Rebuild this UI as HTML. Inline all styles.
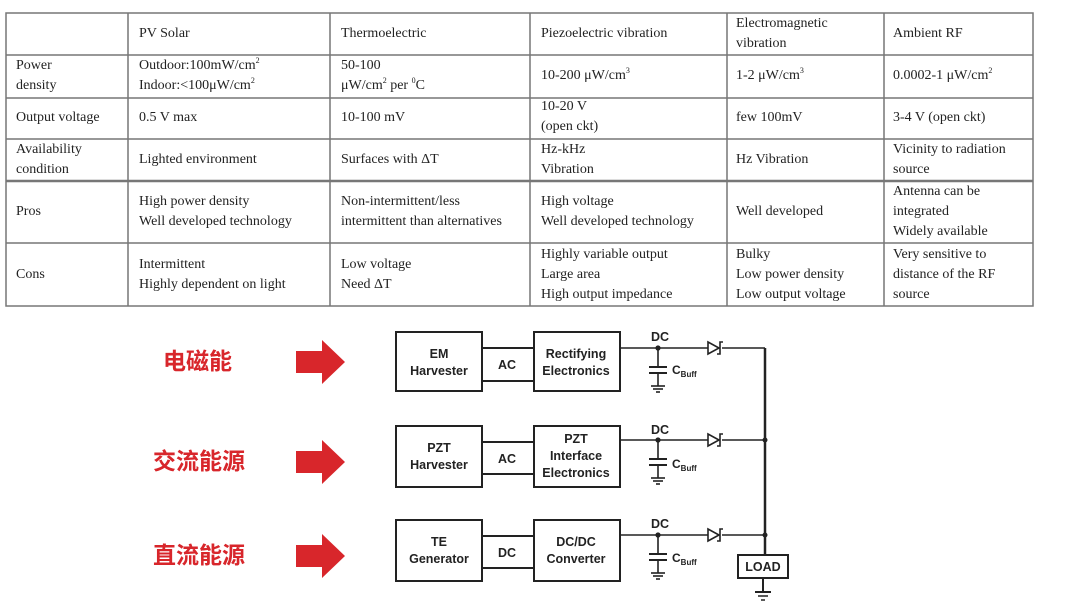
<!DOCTYPE html>
<html><head><meta charset="utf-8"><style>
body{margin:0;width:1069px;height:608px;background:#fff;overflow:hidden;position:relative;font-family:"Liberation Serif",serif;}
.t{position:absolute;font-size:14px;color:#222;line-height:20px;}
.t sup{font-size:8px;line-height:0;vertical-align:6px;}
.cn{position:absolute;font-family:"Liberation Sans","Noto Sans CJK SC",sans-serif;font-weight:bold;color:#d8262b;font-size:23px;line-height:30px;}
</style></head><body>
<svg width="1069" height="608" style="position:absolute;left:0;top:0">
<g stroke="#777" stroke-width="1.5" fill="none">
<rect x="6" y="13" width="1027" height="293"/>
<line x1="128" y1="13" x2="128" y2="306"/><line x1="330" y1="13" x2="330" y2="306"/>
<line x1="530" y1="13" x2="530" y2="306"/><line x1="727" y1="13" x2="727" y2="306"/>
<line x1="884" y1="13" x2="884" y2="306"/>
<line x1="6" y1="55" x2="1033" y2="55"/><line x1="6" y1="98" x2="1033" y2="98"/>
<line x1="6" y1="139" x2="1033" y2="139"/><line x1="6" y1="181" x2="1033" y2="181" stroke-width="2.5"/>
<line x1="6" y1="243" x2="1033" y2="243"/>
</g>
<g fill="#d8262b">
<polygon points="296,351 322,351 322,340 345,362 322,384 322,373 296,373"/>
<polygon points="296,451 322,451 322,440 345,462 322,484 322,473 296,473"/>
<polygon points="296,545 322,545 322,534 345,556 322,578 322,567 296,567"/>
</g>
<g stroke="#222" stroke-width="2" fill="none">
<rect x="396" y="332" width="86" height="59"/><rect x="534" y="332" width="86" height="59"/>
<rect x="396" y="426" width="86" height="61"/><rect x="534" y="426" width="86" height="61"/>
<rect x="396" y="520" width="86" height="61"/><rect x="534" y="520" width="86" height="61"/>
<line x1="482" y1="348" x2="534" y2="348"/><line x1="482" y1="381" x2="534" y2="381"/>
<line x1="482" y1="442" x2="534" y2="442"/><line x1="482" y1="474" x2="534" y2="474"/>
<line x1="482" y1="536" x2="534" y2="536"/><line x1="482" y1="568" x2="534" y2="568"/>
<line x1="765" y1="348" x2="765" y2="555" stroke-width="2.5"/>
<rect x="738" y="555" width="50" height="23"/>
<line x1="763" y1="578" x2="763" y2="592"/>
<line x1="755" y1="592" x2="771" y2="592"/><line x1="758" y1="596" x2="768" y2="596" stroke-width="1.5"/><line x1="761" y1="600" x2="765" y2="600" stroke-width="1.5"/>
</g>
<g id="br" stroke="#222" stroke-width="1.6" fill="none">
<line x1="620" y1="348" x2="708" y2="348"/><line x1="722" y1="348" x2="765" y2="348"/>
<polygon points="708,342 708,354 719,348" fill="#fff"/>
<polyline points="717,354 720,354 720,342 723,342"/>
<line x1="658" y1="348" x2="658" y2="367"/>
<line x1="649" y1="367" x2="667" y2="367" stroke-width="2"/><line x1="649" y1="373" x2="667" y2="373" stroke-width="2"/>
<line x1="658" y1="373" x2="658" y2="386"/>
<line x1="651" y1="386" x2="665" y2="386"/><line x1="653" y1="389" x2="663" y2="389"/><line x1="656" y1="392" x2="660" y2="392"/>
<circle cx="658" cy="348" r="1.8" fill="#222"/>
</g>
<use href="#br" y="92"/><use href="#br" y="187"/>
<circle cx="765" cy="440" r="2.5" fill="#222"/><circle cx="765" cy="535" r="2.5" fill="#222"/>
<g font-family="Liberation Sans,sans-serif" font-weight="bold" font-size="12.5" fill="#222" text-anchor="middle">
<text x="439" y="358">EM</text><text x="439" y="375">Harvester</text>
<text x="576" y="358">Rectifying</text><text x="576" y="375">Electronics</text>
<text x="439" y="452">PZT</text><text x="439" y="469">Harvester</text>
<text x="576" y="443">PZT</text><text x="576" y="460">Interface</text><text x="576" y="477">Electronics</text>
<text x="439" y="546">TE</text><text x="439" y="563">Generator</text>
<text x="576" y="546">DC/DC</text><text x="576" y="563">Converter</text>
<text x="507" y="369">AC</text><text x="507" y="463">AC</text><text x="507" y="557">DC</text>
<text x="660" y="341">DC</text><text x="660" y="434">DC</text><text x="660" y="528">DC</text>
<text x="763" y="571">LOAD</text>
</g>
<g font-family="Liberation Sans,sans-serif" font-weight="bold" fill="#222">
<text x="672" y="374" font-size="12">C<tspan font-size="8" dy="3">Buff</tspan></text>
<text x="672" y="468" font-size="12">C<tspan font-size="8" dy="3">Buff</tspan></text>
<text x="672" y="562" font-size="12">C<tspan font-size="8" dy="3">Buff</tspan></text>
</g>
</svg>
<div class="cn" style="left:163px;top:346px">电磁能</div>
<div class="cn" style="left:153px;top:446px">交流能源</div>
<div class="cn" style="left:153px;top:540px">直流能源</div>

<div class="t" style="left:139px;top:24px">PV Solar</div>
<div class="t" style="left:341px;top:24px">Thermoelectric</div>
<div class="t" style="left:541px;top:24px">Piezoelectric vibration</div>
<div class="t" style="left:736px;top:14px">Electromagnetic<br>vibration</div>
<div class="t" style="left:893px;top:24px">Ambient RF</div>

<div class="t" style="left:16px;top:56px">Power<br>density</div>
<div class="t" style="left:139px;top:56px">Outdoor:100mW/cm<sup>2</sup><br>Indoor:&lt;100μW/cm<sup>2</sup></div>
<div class="t" style="left:341px;top:56px">50-100<br>μW/cm<sup>2</sup> per <sup>0</sup>C</div>
<div class="t" style="left:541px;top:66px">10-200 μW/cm<sup>3</sup></div>
<div class="t" style="left:736px;top:66px">1-2 μW/cm<sup>3</sup></div>
<div class="t" style="left:893px;top:66px">0.0002-1 μW/cm<sup>2</sup></div>

<div class="t" style="left:16px;top:108px">Output voltage</div>
<div class="t" style="left:139px;top:108px">0.5 V max</div>
<div class="t" style="left:341px;top:108px">10-100 mV</div>
<div class="t" style="left:541px;top:97px">10-20 V<br>(open ckt)</div>
<div class="t" style="left:736px;top:108px">few 100mV</div>
<div class="t" style="left:893px;top:108px">3-4 V (open ckt)</div>

<div class="t" style="left:16px;top:140px">Availability<br>condition</div>
<div class="t" style="left:139px;top:150px">Lighted environment</div>
<div class="t" style="left:341px;top:150px">Surfaces with ΔT</div>
<div class="t" style="left:541px;top:140px">Hz-kHz<br>Vibration</div>
<div class="t" style="left:736px;top:150px">Hz Vibration</div>
<div class="t" style="left:893px;top:140px">Vicinity to radiation<br>source</div>

<div class="t" style="left:16px;top:202px">Pros</div>
<div class="t" style="left:139px;top:192px">High power density<br>Well developed technology</div>
<div class="t" style="left:341px;top:192px">Non-intermittent/less<br>intermittent than alternatives</div>
<div class="t" style="left:541px;top:192px">High voltage<br>Well developed technology</div>
<div class="t" style="left:736px;top:202px">Well developed</div>
<div class="t" style="left:893px;top:182px">Antenna can be<br>integrated<br>Widely available</div>

<div class="t" style="left:16px;top:265px">Cons</div>
<div class="t" style="left:139px;top:255px">Intermittent<br>Highly dependent on light</div>
<div class="t" style="left:341px;top:255px">Low voltage<br>Need ΔT</div>
<div class="t" style="left:541px;top:245px">Highly variable output<br>Large area<br>High output impedance</div>
<div class="t" style="left:736px;top:245px">Bulky<br>Low power density<br>Low output voltage</div>
<div class="t" style="left:893px;top:245px">Very sensitive to<br>distance of the RF<br>source</div>
</body></html>
